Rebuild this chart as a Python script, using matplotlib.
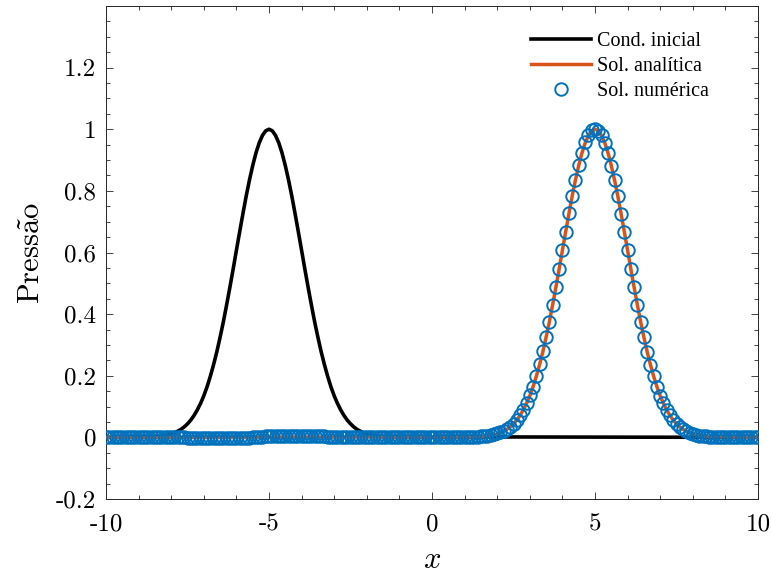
import numpy as np
import matplotlib
matplotlib.use('Agg')
from matplotlib import pyplot as plt
from matplotlib.ticker import MultipleLocator

######### Data #########
# pulse shape sampled every 0.1, from the foot (3.5 units off centre) up to just below the peak
pulse_half = [0.002, 0.003, 0.004, 0.006, 0.008, 0.011, 0.015, 0.020, 0.026, 0.034,
              0.044, 0.056, 0.071, 0.089, 0.110, 0.135, 0.164, 0.198, 0.236, 0.278,
              0.325, 0.375, 0.430, 0.487, 0.546, 0.607, 0.667, 0.726, 0.783, 0.835,
              0.882, 0.923, 0.956, 0.980, 0.995]
pulse_y = pulse_half + [1.000] + pulse_half[::-1]

# initial condition: centred at x = -5 (x = -8.5 .. -1.5)
ini_center = -5.0
# analytic solution: centred at x = 5 (x = 1.5 .. 8.5)
ana_center = 5.0

# numerical solution, sampled every 0.1 on [-10, 10]
num_wake = [-0.001, -0.001, -0.001, -0.002, -0.002, -0.002, -0.002, -0.003, -0.003, -0.003,   # -7.5 .. -6.6
            -0.003, -0.003, -0.003, -0.003, -0.003, -0.003, -0.002, -0.002, -0.002, -0.001,   # -6.5 .. -5.6
            0.000, 0.001, 0.002, 0.002, 0.003, 0.003, 0.003, 0.004, 0.004, 0.004,            # -5.5 .. -4.6
            0.004, 0.004, 0.004, 0.004, 0.004, 0.004, 0.004, 0.003, 0.003, 0.003,            # -4.5 .. -3.6
            0.003, 0.003, 0.003, 0.002, 0.002, 0.002, 0.001, 0.001, 0.001, 0.001, 0.0]       # -3.5 .. -2.5
num_pulse = [0.004, 0.005, 0.006, 0.008, 0.010, 0.013, 0.017, 0.022, 0.028, 0.035,
             0.045, 0.057, 0.072, 0.090, 0.111, 0.136, 0.165, 0.199, 0.237, 0.279,
             0.326, 0.376, 0.431, 0.488, 0.547, 0.608, 0.668, 0.727, 0.784, 0.836,
             0.883, 0.924, 0.957, 0.981, 0.996, 1.000, 0.995, 0.980, 0.956, 0.923,
             0.882, 0.835, 0.783, 0.726, 0.667, 0.607, 0.546, 0.487, 0.430, 0.375,
             0.325, 0.278, 0.236, 0.198, 0.164, 0.135, 0.110, 0.089, 0.071, 0.056,
             0.044, 0.034, 0.026, 0.020, 0.015, 0.011, 0.008, 0.006, 0.004, 0.003, 0.002]
############################################

blue = '#0072BD'
orange = '#D95319'

offsets = np.round(np.linspace(-3.5, 3.5, 71), 1)
ini_x = np.concatenate([[-10.0], ini_center + offsets, [10.0]])
ini_y = np.concatenate([[0.0], pulse_y, [0.0]])
ana_x = np.concatenate([[-10.0], ana_center + offsets, [10.0]])
ana_y = np.concatenate([[0.0], pulse_y, [0.0]])

num_x = np.round(np.linspace(-10, 10, 201), 1)
num_y = np.zeros(201)
num_y[25:76] = num_wake      # x = -7.5 .. -2.5
num_y[115:186] = num_pulse   # x = 1.5 .. 8.5

plt.rcParams['mathtext.fontset'] = 'cm'
plt.rcParams['axes.unicode_minus'] = False
plt.rcParams['axes.formatter.use_mathtext'] = True

fig = plt.figure(figsize=(7.71, 5.80), dpi=100)
ax = fig.add_axes([106/771, 1 - 499/580, (758-106)/771, (499-6)/580])

ax.plot(ini_x, ini_y, color='black', lw=2.6, label='Cond. inicial', zorder=2)
ax.plot(ana_x, ana_y, color=orange, lw=2.5, label='Sol. analítica', zorder=3)
ax.plot(num_x, num_y, 'o', mfc='none', mec=blue, ms=9, mew=1.4, label='Sol. numérica', zorder=4)

ax.set_xlim(-10, 10)
ax.set_ylim(-0.2, 1.4)
ax.set_xticks([-10, -5, 0, 5, 10])
ax.set_yticks([-0.2, 0, 0.2, 0.4, 0.6, 0.8, 1, 1.2])
ax.set_xticklabels(['-10', '-5', '0', '5', '10'])
ax.set_yticklabels(['-0.2', '0', '0.2', '0.4', '0.6', '0.8', '1', '1.2'])
ax.xaxis.set_minor_locator(MultipleLocator(1))
ax.yaxis.set_minor_locator(MultipleLocator(0.05))
ax.tick_params(which='both', direction='in', top=True, right=True, color='#262626', width=0.6)
ax.tick_params(which='major', length=5, labelsize=18, pad=7)
ax.tick_params(axis='x', which='major', pad=10)
ax.tick_params(which='minor', length=3)
for lab in ax.get_xticklabels() + ax.get_yticklabels():
    lab.set_family('cmr10')
for s in ax.spines.values():
    s.set_color('#262626')
    s.set_linewidth(0.7)

ax.set_xlabel(r'$x$', fontsize=22, labelpad=7)
ax.set_ylabel(r'$\mathrm{Press\tilde{a}o}$', fontsize=22, labelpad=8)

leg = ax.legend(loc='upper right', frameon=False, prop={'family': 'Liberation Serif', 'size': 14.5},
                handlelength=3.0, handletextpad=0.3, labelspacing=0.3,
                bbox_to_anchor=(0.953, 0.985))

fig.savefig('out.png', dpi=100)
